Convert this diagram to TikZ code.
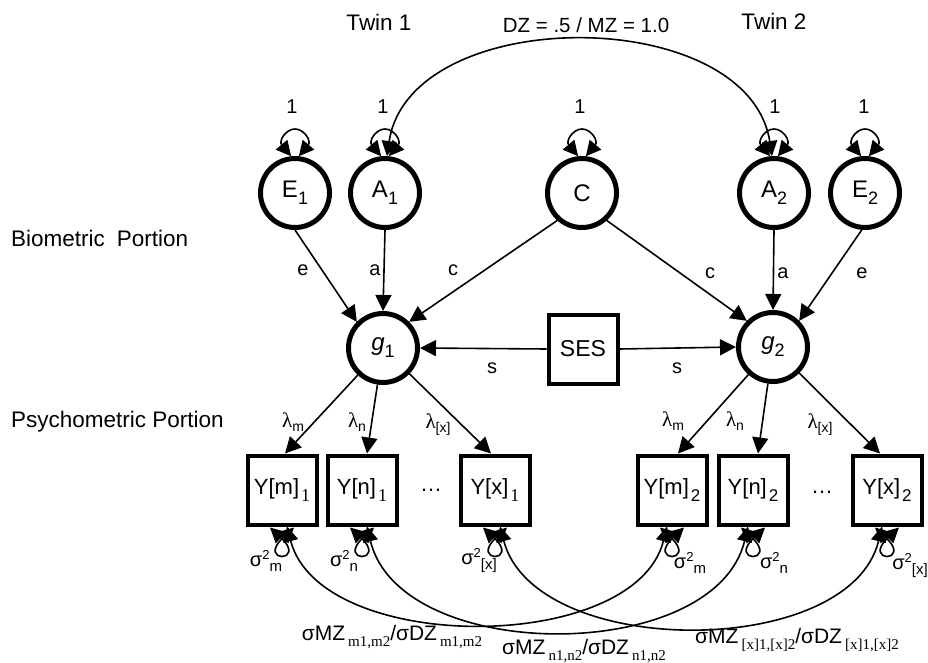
\documentclass[tikz,border=0pt]{standalone}
\usepackage{fontspec}
\setmainfont{Liberation Sans}
\newfontfamily\serifsub{Liberation Serif}
\usetikzlibrary{arrows.meta,calc}

% font size helpers
\newcommand{\fs}[1]{\fontsize{#1}{#1}\selectfont}
% subscripts and superscripts built from raised text
\newcommand{\serlow}[1]{\kern3pt\raisebox{-6pt}{\serifsub\fs{15}#1}}
\newcommand{\lam}[1]{{\serifsub\fs{21}λ}\raisebox{-4pt}{\fs{14}#1}}
\newcommand{\sigsq}[1]{σ\raisebox{7pt}{\fs{13}2}\raisebox{-5pt}{\fs{15}#1}}
\newcommand{\latlab}[2]{#1\raisebox{-7pt}{\fs{18}#2}}
\newcommand{\obslab}[2]{#1\kern2pt\raisebox{-7pt}{\fs{17}#2}}
\newcommand{\obsser}[2]{#1\kern2pt\raisebox{-7pt}{\serifsub\fs{18}#2}}

\begin{document}
\begin{tikzpicture}[x=1pt,y=1pt,
  latent/.style={circle,draw,line width=5pt,minimum size=69pt,inner sep=0pt,font=\fs{24}},
  observed/.style={rectangle,draw,line width=4pt,minimum width=69pt,minimum height=69pt,inner sep=0pt,font=\fs{22}},
  causal/.style={-{Triangle[length=16pt,width=16pt]},line width=1.6pt},
  twoway/.style={{Triangle[length=15pt,width=15pt]}-{Triangle[length=15pt,width=15pt]},line width=1.6pt},
  coef/.style={inner sep=0pt,font=\fs{20}},
  heading/.style={inner sep=0pt,font=\fs{22.5}},
  covlab/.style={inner sep=0pt,font=\fs{21}}
]
\useasboundingbox (0,0) rectangle (928,-663);

% headings
\node[heading] (tw1) at (379,-22) {Twin 1};
\node[heading] (tw2) at (774,-21) {Twin 2};
\node[inner sep=0pt,font=\fs{20.5}] (rel) at (586,-25) {DZ = .5 / MZ = 1.0};
\node[heading,anchor=west] (bio) at (11,-238) {Biometric\hspace{12pt}Portion};
\node[heading,anchor=west] (psy) at (11,-422) {Psychometric Portion};

% biometric latent variables
\node[latent] (E1) at (295,-193) {\latlab{E}{1}};
\node[latent] (A1) at (385,-193) {\latlab{A}{1}};
\node[latent] (C)  at (582,-193) {C};
\node[latent] (A2) at (774,-193) {\latlab{A}{2}};
\node[latent] (E2) at (865,-193) {\latlab{E}{2}};

% general factors and covariate
\node[latent] (g1) at (383,-348) {\latlab{\textit{g}}{1}};
\node[latent] (g2) at (773,-347) {\latlab{\textit{g}}{2}};
\node[observed,font=\fs{23}] (SES) at (583,-349) {SES};

% indicators
\node[observed] (ym1) at (282,-490) {\obsser{Y[m]}{1}};
\node[observed] (yn1) at (362,-490) {\obsser{Y[n]}{1}};
\node[observed] (yx1) at (495,-490) {\obsser{Y[x]}{1}};
\node[observed] (ym2) at (672,-490) {\obslab{Y[m]}{2}};
\node[observed] (yn2) at (753,-490) {\obslab{Y[n]}{2}};
\node[observed] (yx2) at (887,-490) {\obslab{Y[x]}{2}};
\node[inner sep=0pt,font=\fs{22}] (dots1) at (431,-490) {\dots};
\node[inner sep=0pt,font=\fs{22}] (dots2) at (822,-492) {\dots};

% unit variances of the latent components (omega-shaped loop over each circle)
\foreach \n/\x in {E1/292,A1/383,C/580,A2/775,E2/864}{
  \coordinate (top\n) at ($(\n.center)+(0,64)$);
  \draw[twoway] (\n.96) .. controls +(130:20) and +(-9,0) .. (top\n)
                        .. controls +(9,0) and +(50:20) .. (\n.84);
  \node[coef] (one\n) at (\x,-107) {1};
}

% genetic correlation between twins
\draw[twoway] (A1.87) .. controls (410,-3) and (748,-3) .. (A2.93);

% biometric paths
\draw[causal] (E1.south) -- (g1.135);
\draw[causal] (A1.south) -- (g1.north);
\draw[causal] (C.228) -- (g1.45);
\draw[causal] (C.312) -- (g2.135);
\draw[causal] (A2.south) -- (g2.north);
\draw[causal] (E2.265) -- (g2.45);
\node[coef] (le1) at (303,-270) {e};
\node[coef] (la1) at (375,-270) {a};
\node[coef] (lc1) at (453,-270) {c};
\node[coef] (lc2) at (710,-273) {c};
\node[coef] (la2) at (783,-273) {a};
\node[coef] (le2) at (862,-273) {e};

% SES effects
\draw[causal] (SES.west) -- (g1.east);
\draw[causal] (SES.east) -- (g2.west);
\node[coef] (ls1) at (492,-368) {s};
\node[coef] (ls2) at (677,-368) {s};

% factor loadings
\draw[causal] (g1) -- ($(ym1.north)+(3,0)$);
\draw[causal] (g1) -- ($(yn1.north)+(5,0)$);
\draw[causal] (g1) -- ($(yx1.north)+(-4,0)$);
\draw[causal] (g2) -- ($(ym2.north)+(6,0)$);
\draw[causal] (g2) -- ($(yn2.north)+(5,0)$);
\draw[causal] (g2) -- ($(yx2.north)+(-7,0)$);
\node[coef] (lm1) at (293,-422) {\lam{m}};
\node[coef] (ln1) at (357,-422) {\lam{n}};
\node[coef] (lx1) at (438,-425) {\lam{[x]}};
\node[coef] (lm2) at (673,-421) {\lam{m}};
\node[coef] (ln2) at (735,-421) {\lam{n}};
\node[coef] (lx2) at (820,-425) {\lam{[x]}};

% residual variances (crossed loop under each box)
\foreach \n in {ym1,yn1,yx1,ym2,yn2,yx2}{
  \draw[twoway] ($(\n.south)+(-12,-1)$) .. controls +(-43:52) and +(-137:52) .. ($(\n.south)+(12,-1)$);
}
\node[coef] (sm1) at (266,-561) {\sigsq{m}};
\node[coef] (sn1) at (344,-561) {\sigsq{n}};
\node[coef] (sx1) at (479,-561) {\sigsq{[x]}};
\node[coef] (sm2) at (690,-563) {\sigsq{m}};
\node[coef] (sn2) at (774,-563) {\sigsq{n}};
\node[coef] (sx2) at (910,-566) {\sigsq{[x]}};

% cross-twin residual covariances
\draw[twoway] ($(ym1.south)+(5,0)$) .. controls (320,-655) and (635,-655) .. ($(ym2.south)+(-5,0)$);
\draw[twoway] ($(yn1.south)+(5,0)$) .. controls (400,-665) and (715,-665) .. ($(yn2.south)+(-5,0)$);
\draw[twoway] ($(yx1.south)+(5,0)$) .. controls (535,-660) and (850,-660) .. ($(yx2.south)+(-5,0)$);
\node[covlab] (cm) at (392,-637) {σMZ\serlow{m1,m2}/σDZ\serlow{m1,m2}};
\node[covlab] (cn) at (584,-651) {σMZ\serlow{n1,n2}/σDZ\serlow{n1,n2}};
\node[covlab] (cx) at (797,-640) {σMZ\serlow{[x]1,[x]2}/σDZ\serlow{[x]1,[x]2}};
\end{tikzpicture}
\end{document}
